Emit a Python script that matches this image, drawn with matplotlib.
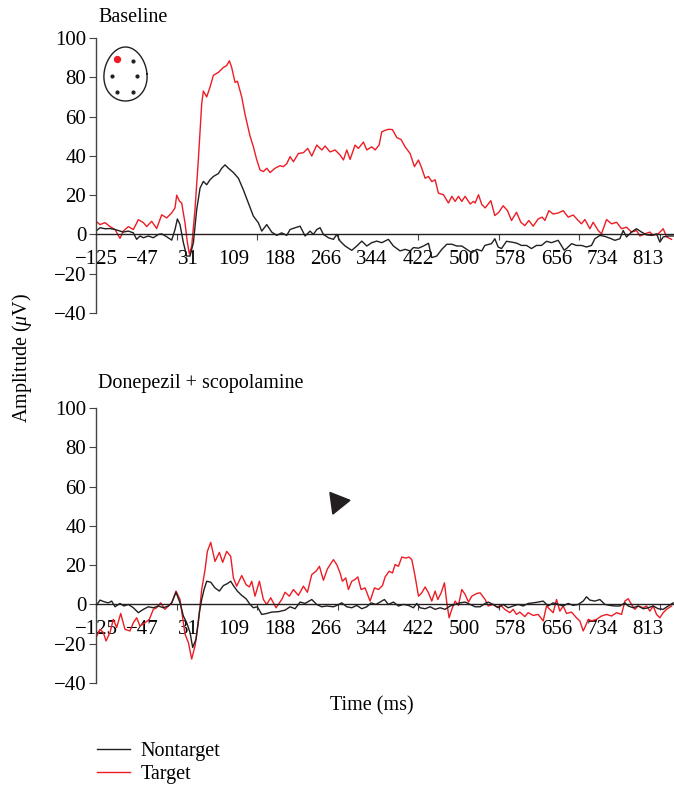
import matplotlib.pyplot as plt
from matplotlib.patches import Polygon
import numpy as np

plt.rcParams['font.family'] = ['Liberation Serif', 'DejaVu Serif']
plt.rcParams['font.size'] = 14.5
plt.rcParams['mathtext.fontset'] = 'custom'
plt.rcParams['mathtext.rm'] = 'Liberation Serif'
plt.rcParams['mathtext.it'] = 'Liberation Serif:italic'

# ---- data (time in ms, amplitude in uV) ----
base_target_t = [
    -125, -118.2, -109.7, -101.2, -92.7, -84.3, -78.6, -70.1, -61.6, -53.1,
    -44.6, -39, -30.5, -22, -13.5, -5, 3.5, 9.1, 12, 16.5,
    20.4, 26, 30, 33.5, 37.4, 43, 48.7, 54.4, 57.2, 62.9,
    68.5, 74.2, 82.7, 91.2, 96.8, 101.4, 105.3, 111, 115, 122.3,
    128, 136.5, 142.1, 147.8, 153.4, 159.1, 164.8, 170.4, 178.9, 187.4,
    193, 198.7, 204.4, 210.0, 218.5, 227.0, 234.4, 241.2, 249.7, 258.2,
    263.8, 272.3, 280.8, 289.3, 295, 300.6, 306.3, 314.7, 320.4, 328.9,
    334.6, 343.0, 348.7, 355.5, 360.0, 365.7, 371.3, 378.1, 385.5, 392.8,
    399.6, 408.1, 415.5, 422.3, 427.9, 433.6, 439.3, 444.9, 450.6, 456.2,
    464.7, 473.2, 478.9, 484.5, 490.2, 495.8, 501.5, 510.0, 515.7, 518.5,
    524.2, 529.8, 535.5, 545.1, 551.9, 558.7, 566.0, 573.4, 580.2, 588.7,
    596.0, 602.8, 609.6, 617.0, 625.5, 632.3, 636.8, 643.6, 651.0, 659.4,
    667.9, 676.4, 684.9, 693.4, 699.0, 704.7, 713.2, 718.8, 727.3, 733.0,
    741.5, 750.0, 758.5, 767.0, 775.4, 783.9, 792.4, 798.1, 806.6, 815.1,
    820.7, 829.2, 837.7, 843.4, 851.8]
base_target = [
    6.7, 5, 6, 4, 2.5, -2, 1.7, 4, 2.5, 7.5,
    6, 4, 6.7, 3, 10, 8.4, 11, 13.5, 20, 17,
    16, 6, -4, -10, -6, 12.6, 38, 66.5, 73, 70,
    75, 81, 82.5, 85, 86, 88.4, 85, 77.4, 78, 70,
    61, 50, 44.6, 38, 32.8, 32, 33.7, 31.5, 33.7, 35,
    34.5, 36, 39.6, 37, 41.2, 41.6, 43.8, 39.9, 45.5, 43,
    45, 42, 43, 40.4, 37.9, 43, 38.2, 45.5, 43.8, 47,
    43, 44.6, 43, 45.5, 52.2, 53, 53.5, 53.4, 49.3, 48.3,
    44.6, 41.2, 34.5, 37.9, 33.7, 28.6, 29.5, 26.9, 27.8, 21,
    20.2, 16, 19.4, 16.8, 19.4, 16.8, 19.4, 15.5, 16.8, 16,
    20.2, 15.2, 13.5, 17.2, 9.6, 11.3, 14.6, 12.1, 7.1, 11.3,
    6.2, 4.5, 7.1, 4.2, 7.9, 8.8, 7.1, 12.1, 10.4, 10.9,
    12.1, 8.8, 9.9, 7.1, 5.4, 7.6, 2.9, 6.2, 2, 0.3,
    7.6, 5.4, 6.2, 2.9, 3.7, 1.2, 2, -0.8, 0.3, 1.2,
    -0.5, 0.3, 2.9, -1.3, -2.5]

base_nontarget_t = [
    -125, -118.2, -109.7, -101.2, -92.7, -84.3, -78.6, -70.1, -61.6, -56.0,
    -50.3, -44.6, -36.1, -27.7, -19.2, -13.5, -5.0, 3.5, 9.1, 13.1,
    17.6, 23.3, 28.9, 34.6, 40.3, 45.9, 51.6, 57.2, 62.9, 68.5,
    74.2, 82.7, 88.4, 94.0, 99.7, 108.2, 116.7, 125.1, 133.6, 142.1,
    150.6, 156.3, 164.8, 173.2, 181.7, 190.2, 198.7, 204.4, 212.9, 221.4,
    229.9, 238.3, 244.0, 249.7, 255.3, 261.0, 269.5, 278.0, 283.6, 289.3,
    297.8, 309.1, 317.6, 326.1, 334.6, 343.0, 351.5, 360.0, 371.3, 379.8,
    391.1, 399.6, 408.1, 413.8, 422.3, 430.8, 439.3, 444.9, 453.4, 461.9,
    470.4, 478.9, 487.4, 495.8, 504.3, 512.8, 521.3, 529.8, 534.9, 546.2,
    551.9, 557.6, 563.2, 571.7, 580.2, 588.7, 597.2, 605.7, 614.1, 622.6,
    631.1, 639.6, 648.1, 659.4, 669.6, 673.6, 682.1, 690.5, 699.0, 707.5,
    716.0, 721.7, 730.2, 738.7, 747.1, 755.6, 764.1, 769.8, 775.4, 783.9,
    792.4, 800.9, 809.4, 817.9, 826.4, 832.0, 837.7, 846.2, 854.7]
base_nontarget = [
    1.7, 3.4, 2.9, 3, 2.5, 1.7, 1.2, 1.7, 0.8, -2.5,
    -0.8, -1.7, -0.8, -1.7, 0, 0.3, -1.2, -2.9, 2.5, 7.9,
    5, -4.2, -11, -11, -4.2, 12.6, 23.6, 27, 25.3, 27.8,
    29.5, 31, 33.7, 35.4, 33.7, 31.5, 28.6, 22.7, 16, 9.3,
    5.9, 1.7, 5, 1.2, -0.5, 0.8, -0.5, 2.5, 3.4, 4.2,
    -0.8, 1.7, 0, 2.5, 3.4, 0, -1.7, -2.5, 0, -3.4,
    -5.9, -8.1, -5.9, -3.4, -5.9, -4.2, -3.4, -4.2, -2.5, -5.9,
    -8.4, -7.6, -8.4, -6.7, -7, -5.9, -4.5, -11.8, -11, -7.6,
    -5, -5, -5.9, -5.9, -7.6, -9.3, -7.6, -8.4, -5.6, -4.7,
    -2.2, -6.4, -7.2, -3.5, -3.9, -4.4, -5.6, -5.6, -7.2, -5.6,
    -5.6, -3.5, -4.2, -3, -8, -7.2, -4.7, -5.6, -5.6, -6.4,
    -5.6, -2.2, -0.5, -1, -1.9, -3, -2.2, 2, -1.3, 1.2,
    2.9, 1.2, -0.2, -0.5, 0.3, -3.9, -1.3, -0.8, -0.8]

drug_target_t = [
    -125, -118.2, -112.5, -108.0, -101.2, -95.6, -89.9, -83.1, -75.8, -67.3,
    -61.6, -56.0, -50.3, -41.8, -34.5, -27.7, -22.0, -15.2, -7.9, -2.2,
    3.5, 10.8, 17.6, 26.1, 31.8, 37.4, 43.1, 48.7, 54.4, 60.1,
    64.0, 69.7, 77.0, 84.4, 90.0, 96.8, 103.6, 108.2, 113.8, 122.3,
    129.7, 135.3, 139.3, 144.9, 152.3, 159.1, 164.8, 171.5, 180.6, 190.2,
    195.9, 203.2, 210.0, 218.5, 227.0, 233.8, 241.2, 248.5, 254.2, 261.0,
    267.8, 277.9, 283.6, 289.3, 293.2, 298.9, 303.4, 309.1, 314.7, 319.3,
    324.9, 331.7, 340.2, 347.6, 354.4, 361.2, 365.7, 372.5, 378.1, 382.7,
    388.3, 394.0, 400.8, 406.4, 411.0, 416.6, 422.3, 427.9, 433.6, 439.3,
    444.9, 450.6, 455.1, 460.8, 466.4, 470.4, 474.3, 478.9, 484.5, 490.2,
    495.8, 501.5, 507.2, 512.8, 521.3, 527.0, 535.5, 540.6, 549.1, 554.7,
    563.2, 568.9, 577.4, 583.0, 588.7, 594.3, 602.8, 608.5, 617.0, 625.5,
    634.0, 639.6, 645.3, 650.9, 656.6, 662.3, 667.9, 673.6, 682.1, 690.5,
    696.2, 701.9, 705.8, 710.4, 716.0, 724.5, 733.0, 741.5, 750.0, 758.5,
    767.0, 772.6, 778.3, 783.9, 789.6, 795.2, 803.7, 809.4, 815.1, 820.7,
    826.4, 832.0, 837.7, 843.4, 851.8]
drug_target = [
    -16.9, -12.7, -14.3, -18.6, -14.3, -7.6, -11.8, -4.6, -12.7, -13.5,
    -9.3, -6.8, -11, -9.3, -7.6, -2.5, -1.7, 0.8, -2.5, -0.8,
    0.8, 6.8, 2.5, -15.2, -19.4, -27.8, -21.1, -9.3, 7.6, 17.7,
    27, 31.6, 21.9, 26.5, 21.4, 27, 24.5, 13.5, 9.3, 14.7,
    10.1, 8.9, 11.8, 4.2, 11.8, 2.5, 0, 3.4, -1.7, 2.5,
    6.2, 4.2, 7.6, 4.6, 9.3, 6.2, 15.2, 16.9, 19.4, 12.3,
    18.1, 22.8, 20.3, 16, 11.8, 13.5, 7.6, 11.8, 12.7, 14,
    7.6, 8.4, 1.7, 8.4, 7.6, 9.6, 14, 16.9, 16, 20.3,
    19.4, 24.1, 23.6, 24.1, 22.8, 14.3, 4.2, 5.9, 8.9, 5.9,
    1.7, 6.8, 2.5, 5.9, 11, 0.8, -6.8, -2.5, 1.7, -0.5,
    7.6, 5.1, 1.2, 4.2, 5.6, 5.9, 2.5, -0.8, 0, -1.2,
    -0.8, -2.5, -4.2, -2.5, -5.1, -3.9, -6.2, -4.2, -5.6, -5.1,
    -8.4, -0.8, -2.5, -4.2, 2.5, -3.4, -0.8, -4.6, -3.9, -6.8,
    -8.4, -13.5, -11, -7.6, -8.4, -7.6, -5.9, -5.1, -5.9, -4.2,
    -5.1, 1.7, 2.9, 0, -2.5, -0.8, -1.7, -0.8, -3.4, -0.8,
    -5.1, -6.8, -4.2, -2.5, -0.8]

drug_nontarget_t = [
    -125, -118.2, -111.4, -104.1, -98.4, -92.7, -84.3, -77.5, -70.1, -61.6,
    -53.1, -44.6, -36.1, -27.7, -19.2, -10.7, -2.2, 3.5, 10.8, 17.6,
    23.3, 28.9, 34.6, 39.1, 44.8, 50.4, 54.4, 58.4, 62.9, 69.7,
    77.0, 84.4, 91.2, 98.0, 103.6, 108.2, 114.9, 122.3, 129.7, 136.5,
    142.1, 148.9, 156.3, 164.8, 173.2, 184.6, 195.9, 204.4, 212.9, 221.4,
    229.8, 241.2, 249.6, 258.1, 266.6, 277.9, 283.6, 292.1, 300.6, 309.1,
    317.6, 326.1, 334.6, 341.9, 349.8, 357.2, 364.5, 371.3, 379.8, 388.3,
    396.8, 405.3, 413.8, 419.4, 425.1, 433.6, 442.1, 450.6, 459.1, 467.5,
    476.0, 484.5, 493.0, 501.5, 510.0, 518.5, 527.0, 535.5, 540.6, 549.1,
    557.6, 566.0, 574.5, 583.0, 591.5, 600.0, 608.5, 617.0, 625.5, 634.0,
    642.4, 650.9, 659.4, 667.9, 676.4, 684.9, 693.4, 701.9, 707.5, 713.2,
    721.7, 730.2, 738.7, 747.1, 755.6, 764.1, 772.6, 778.3, 786.8, 795.2,
    803.7, 812.2, 820.7, 829.2, 837.7, 846.2, 854.7]
drug_nontarget = [
    -0.8, 2.2, 1.4, 0.8, 1.7, -1.2, 0.5, -0.8, 0, -1.7,
    -4.2, -2.5, -1.2, -1.7, -0.8, -1.7, -0.8, 0.8, 6.2, 0.8,
    -5.9, -9.3, -14.3, -21.9, -17.7, -4.2, 2.5, 7.6, 11.8, 11.3,
    8.4, 6.8, 9.6, 10.6, 11.8, 9.6, 6.8, 4.6, 2.9, 0,
    -1.7, -1.2, -5.1, -4.6, -3.9, -3.7, -2.9, -1.2, -2.2, 1.2,
    0.5, 2.5, 0, -1.2, -0.8, -1.2, -0.5, 0.8, -1.2, -1.7,
    -0.5, -2.2, -1.2, 0.8, 0, 1.2, 2.5, 0, 1.2, -0.8,
    0, -0.5, -1.7, 0.5, -1.7, -2.2, -1.2, -2.5, -1.7, -2.5,
    -0.8, 0, 0.8, 1.2, 0, -1.2, -1.2, 0.5, 1.2, 0,
    -1.7, 0, -1.7, -0.8, 0, -0.8, 0.5, 0.8, 1.2, 1.7,
    -0.8, 0.8, 0, -0.8, 0.5, -0.5, 0, 1.7, 3.9, 2.2,
    1.7, 2.5, 0, -0.5, -0.8, -0.8, 0.8, -0.8, -1.7, -0.8,
    -2.2, -1.7, -0.8, -2.2, -2.5, -0.8, 0.8]

# tick labels every 20 samples (256 Hz), tick marks every 35 samples
xlabel_pos = [-125 + 78.125 * k for k in range(13)]
xlabel_txt = ['\u2212125', '\u221247', '31', '109', '188', '266', '344',
              '422', '500', '578', '656', '734', '813']
xmark_pos = [-125 + 136.72 * k for k in range(8)]

RED = '#ed1c24'
BLACK = '#231f20'
W, H = 674, 793

fig = plt.figure(figsize=(W / 100, H / 100), dpi=100)


def px_axes(left, top, right, bottom):
    return fig.add_axes([left / W, 1 - bottom / H, (right - left) / W, (bottom - top) / H])


def style(ax):
    ax.set_xlim(-125, 856)
    ax.set_ylim(-40, 100)
    ax.set_yticks(range(-40, 101, 20))
    ax.spines['top'].set_visible(False)
    ax.spines['right'].set_visible(False)
    ax.spines['bottom'].set_position(('data', 0))
    ax.spines['bottom'].set_linewidth(1.0)
    ax.spines['bottom'].set_color(BLACK)
    ax.spines['left'].set_color('#444444')
    ax.spines['left'].set_linewidth(1.0)
    ax.xaxis.remove_overlapping_locs = False
    ax.set_xticks(xlabel_pos)
    ax.set_xticklabels(xlabel_txt)
    ax.set_xticks(xmark_pos, minor=True)
    ax.tick_params(axis='x', which='major', length=0, pad=11, labelsize=15)
    ax.tick_params(axis='x', which='minor', length=4, width=0.8, direction='out', color='#444444')
    ax.tick_params(axis='y', length=5, width=0.8, pad=2, color='#444444', labelsize=15)
    ax.patch.set_visible(False)


ax1 = px_axes(96, 38, 674, 313)
ax2 = px_axes(96, 408, 674, 683)
for ax in (ax1, ax2):
    style(ax)

ax1.plot(base_target_t, base_target, color=RED, lw=1.0)
ax1.plot(base_nontarget_t, base_nontarget, color=BLACK, lw=1.0)
hr, = ax2.plot(drug_target_t, drug_target, color=RED, lw=1.0)
hb, = ax2.plot(drug_nontarget_t, drug_nontarget, color=BLACK, lw=1.0)

# arrowhead marker in the lower panel
ax2.add_patch(Polygon([(272, 57), (306, 53), (277, 46)], closed=True,
                      facecolor=BLACK, edgecolor=BLACK))

# head icon with electrode positions
icon = fig.add_axes([100 / W, 1 - 106 / H, 52 / W, 63 / H])
icon.set_xlim(100, 152)
icon.set_ylim(106, 43)
icon.axis('off')
t = np.linspace(0, 2 * np.pi, 200)
icon.plot(125.5 + 21.5 * np.cos(t) * (1 - 0.1 * np.sin(t)), 74 - 27 * np.sin(t),
          color=BLACK, lw=1.0)
icon.scatter([132.7, 112.3, 137, 116.7, 133.3], [60.7, 76, 76, 91.7, 91.7], s=4, color=BLACK)
icon.scatter([117.3], [59.3], s=18, color=RED)

fig.text(98 / W, 1 - 18 / H, 'Baseline', va='center')
fig.text(98 / W, 1 - 383 / H, 'Donepezil + scopolamine', va='center')
fig.text(22 / W, 1 - 358 / H, 'Amplitude ($\\mu$V)', rotation=90, va='center', ha='center')
fig.text(372 / W, 1 - 706 / H, 'Time (ms)', ha='center', va='center')

fig.legend(handles=[hb, hr], labels=['Nontarget', 'Target'], loc='upper left',
           bbox_to_anchor=(97 / W, 1 - 742 / H), frameon=False, handlelength=1.65,
           handletextpad=0.5, labelspacing=0.2, borderpad=0, borderaxespad=0)

fig.savefig('out.png', dpi=100)
